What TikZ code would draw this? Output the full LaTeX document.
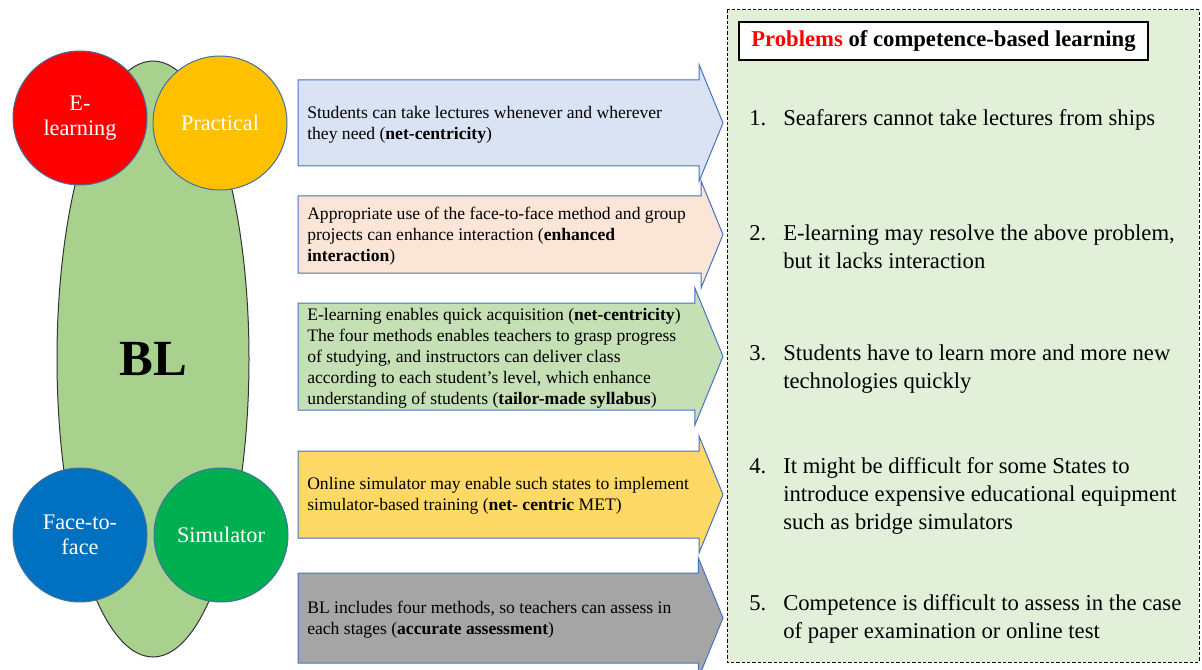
\documentclass[tikz,border=0pt]{standalone}
\usepackage{fontspec}
\setmainfont{Liberation Serif}
\usetikzlibrary{shapes.geometric}

\definecolor{blfill}{HTML}{A9D18E}
\definecolor{elred}{HTML}{FF0000}
\definecolor{pracamber}{HTML}{FFC000}
\definecolor{ftfblue}{HTML}{0070C0}
\definecolor{simgreen}{HTML}{00B050}
\definecolor{edge}{HTML}{41719C}
\definecolor{arrowedge}{HTML}{4472C4}
\definecolor{arrblue}{HTML}{DAE3F3}
\definecolor{arrpeach}{HTML}{FBE5D6}
\definecolor{arrgreen}{HTML}{C5E0B4}
\definecolor{arryellow}{HTML}{FFD966}
\definecolor{arrgray}{HTML}{A5A5A5}
\definecolor{probfill}{HTML}{E2F0D9}

\begin{document}
\begin{tikzpicture}[x=0.75pt,y=-0.75pt]
\tikzstyle{method} = [circle, draw=edge, line width=0.75pt, minimum size=100.5pt, inner sep=0pt, text=white, align=center, font=\fontsize{16.7}{18.75}\selectfont]
\tikzstyle{note} = [anchor=west, align=left, inner sep=0pt, font=\fontsize{13.2}{15.75}\selectfont]
\tikzstyle{block} = [draw=arrowedge, line width=0.75pt, line join=miter]
\tikzstyle{prob} = [anchor=west, inner sep=0pt, font=\fontsize{17}{21}\selectfont]

\useasboundingbox (0,0) rectangle (1202,670);
\clip (0,0) rectangle (1202,670);

% blended learning and its four methods
\node[ellipse, draw=black!80, line width=0.75pt, fill=blfill, minimum width=144pt, minimum height=447pt, font=\bfseries\fontsize{38}{40}\selectfont] (bl) at (153,359) {BL};

\node[method, fill=elred] (elearn) at (80,118) {E-\\learning};
\node[method, fill=pracamber] (prac) at (220,123) {Practical};
\node[method, fill=ftfblue] (ftf) at (80,535) {Face-to-\\face};
\node[method, fill=simgreen] (sim) at (221,535) {Simulator};

% problems
\draw[dash pattern=on 2.5pt off 1.5pt, line width=0.75pt, fill=probfill] (727,10) rectangle (1199,662);
\node[draw, line width=1.5pt, fill=white, minimum width=307pt, minimum height=28.5pt, font=\bfseries\fontsize{17}{21}\selectfont] (title) at (943.5,41) {\textcolor{red}{Problems} of competence-based learning};

\foreach \n/\y/\txt in {
1/120/{Seafarers cannot take lectures from ships},
2/249/{E-learning may resolve the above problem,\\ & but it lacks interaction},
3/368.5/{Students have to learn more and more new\\ & technologies quickly},
4/496/{It might be difficult for some States to\\ & introduce expensive educational equipment\\ & such as bridge simulators},
5/619/{Competence is difficult to assess in the case\\ & of paper examination or online test}}
{
\node[prob] (prob\n) at (749,\y) {\begin{tabular}{@{}p{25.5pt}@{}l@{}}\n. & \txt\end{tabular}};
}

% solutions by BL
\foreach \name/\yt/\yb/\col/\txt in {
netc/80/166/arrblue/{Students can take lectures whenever and wherever\\they need (\textbf{net-centricity})},
inter/196/273/arrpeach/{Appropriate use of the face-to-face method and group\\projects can enhance interaction (\textbf{enhanced}\\\textbf{interaction})},
tailor/303/410/arrgreen/{E-learning enables quick acquisition (\textbf{net-centricity})\\The four methods enables teachers to grasp progress\\of studying, and instructors can deliver class\\according to each student’s level, which enhance\\understanding of students (\textbf{tailor-made syllabus})},
simmet/451/538/arryellow/{Online simulator may enable such states to implement\\simulator-based training (\textbf{net- centric} MET)},
assess/573/663/arrgray/{BL includes four methods, so teachers can assess in\\each stages (\textbf{accurate assessment})}}
{
\pgfmathsetmacro{\ym}{(\yt+\yb)/2}
\pgfmathsetmacro{\hx}{723-0.41*((\yb-\yt)/2+15)}
\draw[block, fill=\col] (298,\yt) -- (\hx,\yt) -- (\hx,\yt-15) -- (723,\ym) -- (\hx,\yb+15) -- (\hx,\yb) -- (298,\yb) -- cycle;
\node[note] (\name) at (307,\ym+1.5) {\txt};
}

\end{tikzpicture}
\end{document}
